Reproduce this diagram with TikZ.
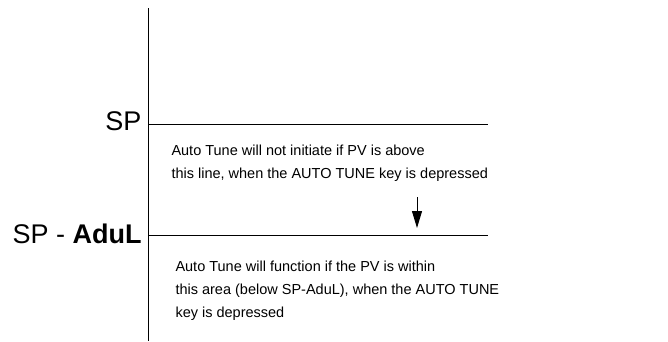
\documentclass[tikz,border=0pt]{standalone}
\usepackage{fontspec}
\setmainfont{Liberation Sans}
\usetikzlibrary{arrows.meta,positioning}

\begin{document}
\begin{tikzpicture}[x=1pt, y=-1pt, line width=1pt,
    level/.style={font=\fontsize{27}{31}\selectfont, anchor=east, inner sep=0pt},
    note/.style={font=\fontsize{14.5}{23}\selectfont, align=left, anchor=base west, inner sep=0pt}]
    \useasboundingbox (0,0) rectangle (668,341);

    % 軸
    \coordinate (axis-top) at (148,8);
    \coordinate (axis-bot) at (148,341);
    \draw (axis-top) -- (axis-bot);

    % SP
    \coordinate (sp-l) at (148,124);
    \coordinate (sp-r) at (488,124);
    \draw (sp-l) -- (sp-r);
    \node[level] (sp) at (142,121) {SP};

    % SP - AduL
    \coordinate (adul-l) at (148,235);
    \coordinate (adul-r) at (488,235);
    \draw (adul-l) -- (adul-r);
    \node[level] (adul) at (142,234) {SP - \textbf{AduL}};

    % 説明
    \node[note] (above) at (171,178) {Auto Tune will not initiate if PV is above\\this line, when the AUTO TUNE key is depressed};
    \node[note] (below) at (175,317) {Auto Tune will function if the PV is within\\this area (below SP-AduL), when the AUTO TUNE\\key is depressed};

    % 矢印
    \coordinate (arr-s) at (417,197);
    \coordinate (arr-e) at (417,228);
    \draw[-{Triangle[length=17pt,width=10pt]}] (arr-s) -- (arr-e);
\end{tikzpicture}
\end{document}
